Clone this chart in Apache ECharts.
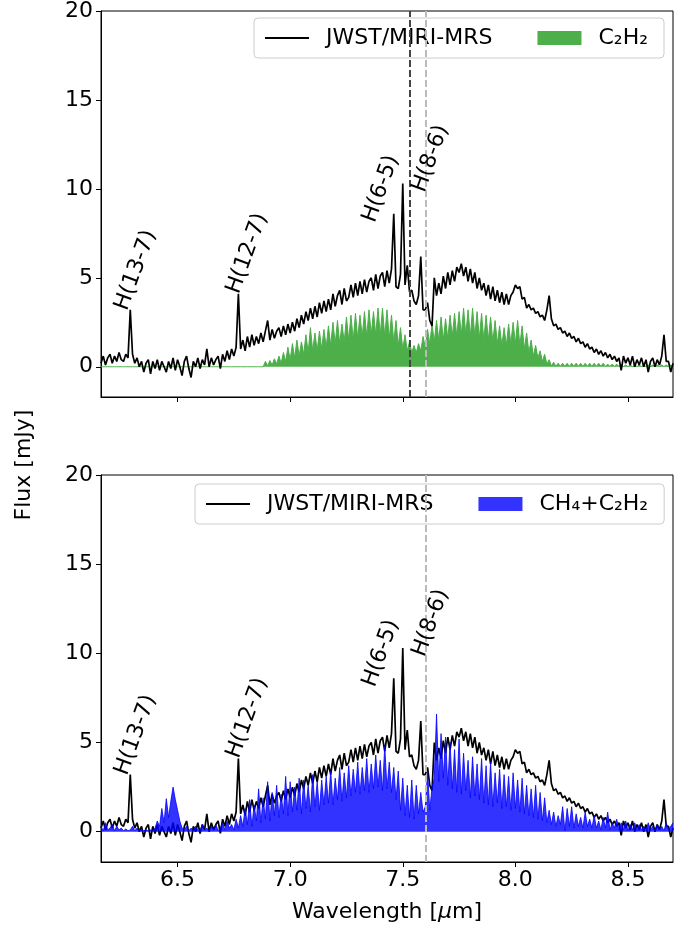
<!DOCTYPE html>
<html>
<head>
<meta charset="utf-8">
<script src="https://cdn.jsdelivr.net/npm/echarts@6/dist/echarts.min.js"></script>
<style>
html, body { margin: 0; padding: 0; background: #fff; }
#chart { width: 696px; height: 931px; }
</style>
</head>
<body>
<div id="chart"></div>
<script>
// observed spectrum, sampled every 0.01 um from 6.16 to 8.70
const flux = [
  0.2, 0.6, 0.1, 0.5, 0.7, 0.2, 0.6, 0.3, 0.8, 0.4,
  0.3, 0.7, 0.5, 3.2, 0.7, 0.2, 0.5, 0.0, 0.3, -0.3,
  0.2, 0.4, -0.4, 0.3, -0.1, 0.4, -0.2, 0.3, 0.0, -0.3,
  0.3, -0.1, 0.5, -0.2, 0.4, 0.0, -0.5, 0.3, 0.6, -0.1,
  -0.6, 0.3, 0.0, 0.5, -0.1, 0.4, 0.1, 1.0, 0.0, 0.5,
  0.1, 0.4, 0.6, -0.1, 0.7, 0.3, 0.9, 0.4, 1.0, 0.6,
  1.1, 4.1, 1.0, 1.5, 0.9, 1.7, 1.1, 1.8, 1.2, 1.7,
  1.3, 1.9, 1.4, 2.0, 2.6, 1.5, 2.1, 1.6, 2.0, 2.2,
  1.7, 2.3, 1.8, 2.4, 1.9, 2.5, 2.0, 2.7, 2.2, 2.9,
  2.4, 3.1, 2.6, 3.3, 2.7, 3.4, 2.8, 3.6, 3.0, 3.7,
  3.1, 3.8, 3.2, 4.1, 3.4, 4.0, 4.3, 3.5, 4.4, 3.7,
  3.9, 4.6, 3.9, 4.7, 4.0, 4.8, 4.1, 4.9, 4.2, 4.8,
  5.0, 4.3, 5.2, 4.4, 5.1, 5.3, 4.5, 5.4, 4.7, 5.5,
  8.6, 4.5, 4.4, 5.2, 10.3, 4.6, 5.7, 4.2, 4.3, 3.7,
  3.5, 4.0, 6.2, 3.2, 3.2, 3.6, 2.6, 2.3, 5.0, 4.0,
  4.7, 4.1, 5.1, 4.4, 5.3, 4.6, 5.4, 4.8, 5.6, 5.3,
  5.8, 5.1, 5.6, 4.8, 5.5, 4.7, 5.3, 4.4, 5.0, 4.3,
  4.7, 4.0, 4.6, 3.8, 4.5, 3.7, 4.3, 3.6, 4.2, 3.5,
  4.1, 3.5, 4.0, 4.2, 4.6, 4.4, 4.5, 3.8, 3.9, 3.3,
  3.5, 3.2, 3.3, 3.0, 3.1, 2.8, 2.9, 2.6, 3.2, 4.0,
  2.7, 2.3, 2.4, 2.1, 2.2, 1.9, 2.0, 1.7, 1.9, 1.6,
  1.7, 1.4, 1.6, 1.3, 1.4, 1.1, 1.3, 1.0, 1.1, 0.8,
  1.0, 0.7, 0.9, 0.6, 0.8, 0.5, 0.7, 0.4, 0.6, 0.3,
  0.5, -0.2, 0.6, 0.2, 0.5, 0.1, 0.6, 0.0, 0.4, 0.1,
  0.5, 0.0, 0.4, -0.3, 0.3, 0.5, 0.0, 0.4, 0.1, 0.6,
  1.8, 0.3, 0.3, -0.3, 0.2
]

// C2H2 slab model, same sampling
const c2h2 = [
  0, 0, 0, 0, 0, 0, 0, 0, 0, 0,
  0, 0, 0, 0, 0, 0, 0, 0, 0, 0,
  0, 0, 0, 0, 0, 0, 0, 0, 0, 0,
  0, 0, 0, 0, 0, 0, 0, 0, 0, 0,
  0, 0, 0, 0, 0, 0, 0, 0, 0, 0,
  0, 0, 0, 0, 0, 0, 0, 0, 0, 0,
  0, 0, 0, 0, 0, 0, 0, 0, 0, 0,
  0, 0, 0, 0.3, 0.05, 0.35, 0.1, 0.45, 0.15, 0.6,
  0.2, 0.8, 0.3, 1.1, 0.4, 1.3, 0.5, 1.5, 0.6, 1.4,
  0.7, 1.8, 0.8, 2.2, 0.9, 1.9, 0.9, 2.0, 1.0, 2.1,
  1.1, 2.3, 1.2, 2.5, 1.3, 2.6, 1.3, 2.4, 1.4, 2.8,
  1.5, 2.9, 1.5, 3.0, 1.6, 2.9, 1.7, 3.1, 1.7, 3.2,
  1.8, 3.1, 1.8, 3.3, 1.8, 3.3, 1.7, 3.2, 1.6, 2.9,
  1.4, 2.6, 1.2, 2.2, 1.0, 1.8, 0.9, 1.4, 0.8, 1.2,
  0.8, 1.3, 0.9, 1.7, 1.1, 2.1, 1.3, 2.4, 1.4, 2.6,
  1.5, 2.8, 1.5, 2.7, 1.6, 2.9, 1.7, 3.0, 1.7, 3.1,
  1.8, 3.3, 1.8, 3.2, 1.7, 3.3, 1.7, 3.1, 1.6, 3.0,
  1.5, 2.9, 1.5, 2.8, 1.4, 2.6, 1.3, 2.3, 1.2, 2.2,
  1.2, 2.4, 1.3, 2.5, 1.3, 2.6, 1.2, 2.3, 1.0, 1.9,
  0.8, 1.5, 0.6, 1.2, 0.5, 0.9, 0.3, 0.7, 0.15, 0.4,
  0.05, 0.25, 0.02, 0.2, 0.02, 0.2, 0.02, 0.2, 0.02, 0.2,
  0.02, 0.2, 0.02, 0.2, 0.02, 0.2, 0.02, 0.2, 0.02, 0.2,
  0.02, 0.2, 0.02, 0.2, 0.02, 0.15, 0.02, 0.15, 0.02, 0.15,
  0.01, 0.15, 0.01, 0.1, 0.01, 0.1, 0.01, 0.1, 0.01, 0.1,
  0.01, 0.1, 0.01, 0.1, 0.01, 0.1, 0.01, 0.1, 0.01, 0.1,
  0.01, 0.1, 0.01, 0.1, 0.01
]

// CH4 + C2H2 slab model, same sampling
const ch4c2h2 = [
  0.3, 0.05, 0.5, 0.1, 0.2, 0.4, 0.05, 0.3, 0.1, 0.2,
  0.05, 0.15, 0.05, 0.1, 0.3, 0.05, 0.2, 0.05, 0.1, 0.05,
  0.1, 0.05, 0.1, 0.05, 0.2, 0.6, 0.3, 1.3, 0.5, 1.85,
  0.8, 1.7, 2.5, 1.8, 1.2, 0.6, 0.2, 0.1, 0.3, 0.05,
  0.2, 0.05, 0.3, 0.1, 0.05, 0.4, 0.1, 0.2, 0.05, 0.3,
  0.1, 0.4, 0.05, 0.2, 0.5, 0.1, 0.6, 0.2, 0.4, 0.1,
  0.7, 0.2, 0.9, 0.3, 1.3, 0.4, 1.8, 0.3, 1.5, 0.6,
  2.4, 0.5, 1.9, 0.7, 2.8, 0.6, 2.2, 0.9, 2.6, 0.8,
  2.1, 1.0, 3.1, 0.9, 2.8, 1.1, 2.5, 1.2, 3.0, 1.0,
  2.9, 1.3, 2.6, 1.1, 3.2, 1.4, 2.8, 1.2, 2.9, 1.5,
  3.1, 1.6, 3.4, 1.5, 3.0, 1.8, 3.6, 1.7, 3.3, 1.9,
  3.7, 2.0, 3.5, 2.2, 3.9, 2.1, 3.6, 2.3, 4.1, 2.2,
  3.8, 2.4, 4.3, 2.5, 4.0, 2.3, 4.8, 2.4, 3.9, 2.2,
  3.6, 1.8, 3.4, 1.2, 3.0, 0.9, 2.6, 0.8, 2.9, 0.7,
  2.6, 1.0, 2.2, 1.1, 1.4, 3.4, 1.2, 2.5, 3.0, 6.6,
  2.8, 5.5, 3.0, 5.3, 2.6, 5.0, 2.4, 4.6, 2.2, 5.2,
  2.1, 4.4, 2.3, 4.0, 1.9, 4.2, 2.0, 3.8, 1.8, 4.1,
  1.6, 3.7, 1.5, 3.9, 1.4, 3.3, 1.6, 3.5, 1.3, 3.2,
  1.4, 3.1, 1.2, 3.3, 1.3, 2.9, 1.1, 3.0, 1.0, 2.6,
  0.9, 2.4, 0.8, 2.6, 0.7, 2.2, 0.6, 1.9, 0.5, 1.2,
  0.4, 1.1, 0.3, 0.9, 0.4, 1.4, 0.05, 1.3, 0.3, 1.4,
  0.2, 1.0, 0.3, 0.8, 0.2, 1.1, 0.3, 0.7, 0.2, 0.9,
  0.2, 0.6, 0.1, 0.8, 0.2, 1.1, 0.1, 0.5, 0.2, 0.7,
  0.1, 0.5, 0.1, 0.6, 0.05, 0.4, 0.1, 0.5, 0.05, 0.4,
  0.1, 0.3, 0.05, 0.5, 0.1, 0.3, 0.05, 0.4, 0.1, 0.3,
  0.05, 0.5, 0.1, 0.3, 0.5
]

const waveStart = 6.16
const waveStep = 0.01
const wavelength = flux.map((_, i) => +(waveStart + i * waveStep).toFixed(2))

const xTicks = [6.5, 7.0, 7.5, 8.0, 8.5]
const yTicks = [0, 5, 10, 15, 20]

// hydrogen recombination lines: name, text anchor (wavelength, flux)
const hLines = [
  { name: 'H(13-7)', x: 6.314, y: 5.42 },
  { name: 'H(12-7)', x: 6.81, y: 6.37 },
  { name: 'H(6-5)', x: 7.403, y: 10.0 },
  { name: 'H(8-6)', x: 7.624, y: 11.7 }
]

const darkDash = 7.53
const lightDash = 7.60

const FONT = 'DejaVu Sans'
const FS = 22
const chart = echarts.init(document.getElementById('chart'))

const pairs = arr => wavelength.map((w, i) => [w, arr[i]])

const makeX = (gi, showLabels) => ({
  type: 'value', gridIndex: gi, min: 6.16, max: 8.70,
  axisLine: { show: true, onZero: false, lineStyle: { color: '#000', width: 1 } },
  axisTick: { customValues: xTicks, length: 5, lineStyle: { color: '#000', width: 1 } },
  axisLabel: {
    show: showLabels, customValues: xTicks, formatter: v => v.toFixed(1),
    fontSize: FS, fontFamily: FONT, color: '#000', margin: 7
  },
  splitLine: { show: false },
  name: showLabels ? 'Wavelength [{i|μ}m]' : '',
  nameLocation: 'middle', nameGap: 39,
  nameTextStyle: { fontSize: FS, fontFamily: FONT, color: '#000', rich: { i: { fontSize: FS, fontFamily: FONT, fontStyle: 'italic', color: '#000' } } }
})

const makeY = gi => ({
  type: 'value', gridIndex: gi, min: -1.7, max: 20,
  axisLine: { show: true, lineStyle: { color: '#000', width: 1 } },
  axisTick: { customValues: yTicks, length: 5, lineStyle: { color: '#000', width: 1 } },
  axisLabel: { customValues: yTicks, fontSize: FS, fontFamily: FONT, color: '#000', margin: 8 },
  splitLine: { show: false }
})

const dashLine = (x, color) => ({
  xAxis: x,
  lineStyle: { color, type: [7, 3], width: 2 }
})

const legendBase = {
  orient: 'horizontal',
  itemWidth: 44, itemHeight: 14, itemGap: 45,
  padding: [9, 16, 9, 10],
  backgroundColor: 'rgba(255,255,255,0.8)',
  borderColor: '#cccccc', borderWidth: 1, borderRadius: 4,
  textStyle: { fontSize: FS, fontFamily: FONT, color: '#000', padding: [0, 0, 0, 12] }
}
const obsLegendItem = { name: 'JWST/MIRI-MRS', itemStyle: { opacity: 0 } }

chart.setOption({
  animation: false,
  grid: [
    { left: 101, top: 9, width: 572, height: 388, show: true, borderColor: '#000', borderWidth: 1 },
    { left: 101, top: 475, width: 572, height: 387, show: true, borderColor: '#000', borderWidth: 1 }
  ],
  xAxis: [makeX(0, false), makeX(1, true)],
  yAxis: [makeY(0), makeY(1)],
  legend: [
    Object.assign({}, legendBase, {
      left: 254, top: 18,
      data: [obsLegendItem, { name: 'C₂H₂', icon: 'rect' }]
    }),
    Object.assign({}, legendBase, {
      left: 195, top: 484,
      data: [obsLegendItem, { name: 'CH₄+C₂H₂', icon: 'rect' }]
    })
  ],
  series: [
    {
      name: 'C₂H₂', type: 'line', xAxisIndex: 0, yAxisIndex: 0,
      data: pairs(c2h2), showSymbol: false, symbol: 'none', z: 2,
      color: '#4caf4a',
      lineStyle: { width: 1, color: '#4caf4a' },
      areaStyle: { color: '#4caf4a', opacity: 1 }
    },
    {
      name: 'JWST/MIRI-MRS', type: 'line', xAxisIndex: 0, yAxisIndex: 0,
      data: pairs(flux), showSymbol: false, symbol: 'none', z: 3,
      color: '#000',
      lineStyle: { width: 1.7, color: '#000' },
      markLine: {
        symbol: 'none', silent: true, label: { show: false },
        data: [dashLine(darkDash, '#444'), dashLine(lightDash, '#bbb')]
      }
    },
    {
      name: 'JWST/MIRI-MRS', type: 'line', xAxisIndex: 1, yAxisIndex: 1,
      data: pairs(flux), showSymbol: false, symbol: 'none', z: 2,
      color: '#000',
      lineStyle: { width: 1.7, color: '#000' },
      markLine: {
        symbol: 'none', silent: true, label: { show: false },
        data: [dashLine(lightDash, '#bbb')]
      }
    },
    {
      name: 'CH₄+C₂H₂', type: 'line', xAxisIndex: 1, yAxisIndex: 1,
      data: pairs(ch4c2h2), showSymbol: false, symbol: 'none', z: 3,
      color: 'rgba(0,0,255,0.8)',
      lineStyle: { width: 1, color: 'rgba(0,0,255,0.8)' },
      areaStyle: { color: 'rgba(0,0,255,0.8)', opacity: 1 }
    }
  ]
})

// rotated line labels placed through the axes, plus the shared y title
const graphics = [{
  type: 'text', x: 24, y: 465, rotation: Math.PI / 2,
  style: { text: 'Flux [mJy]', x: 0, y: 0, fontSize: FS, fontFamily: FONT, fill: '#000', textAlign: 'center', textVerticalAlign: 'middle' }
}]
;[0, 1].forEach(gi => {
  hLines.forEach(l => {
    const [px, py] = chart.convertToPixel({ gridIndex: gi }, [l.x, l.y])
    graphics.push({
      type: 'text', x: px, y: py, rotation: 70 * Math.PI / 180, z: 10,
      style: { text: l.name, x: 0, y: 0, fontSize: FS, fontFamily: FONT, fill: '#000', textAlign: 'center', textVerticalAlign: 'middle' }
    })
  })
})
chart.setOption({ graphic: graphics })
</script>
</body>
</html>
